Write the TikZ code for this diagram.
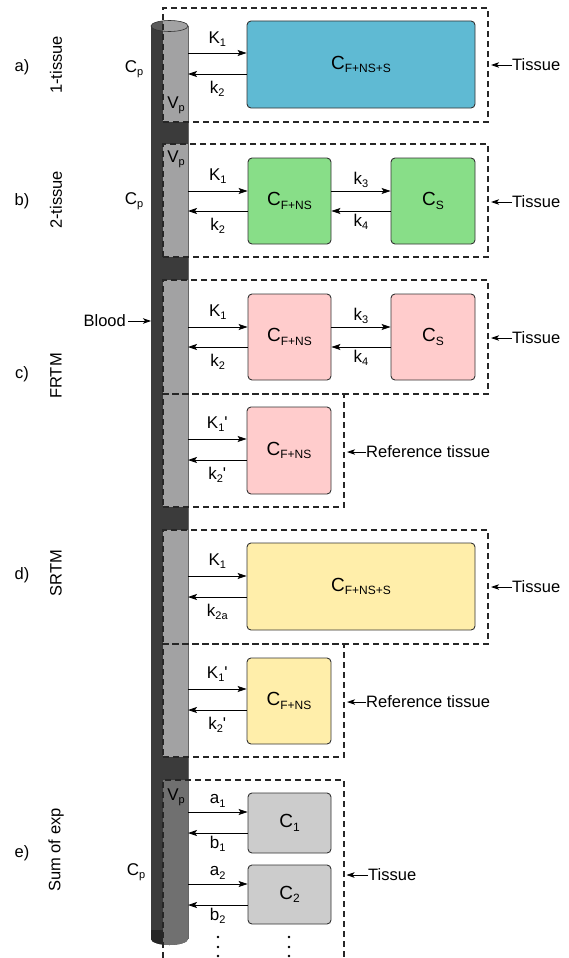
\documentclass[tikz,border=0pt]{standalone}
\usepackage{fontspec}
\setmainfont{Liberation Sans}
\usetikzlibrary{arrows.meta}

% lowered, smaller subscript text
\newcommand{\lowsub}[1]{\raisebox{-3.2pt}{\fontsize{11}{11}\selectfont #1}}
\newcommand{\boxsub}[1]{\raisebox{-3.6pt}{\fontsize{12}{12}\selectfont #1}}

\definecolor{cyldark}{HTML}{3B3B3B}
\definecolor{cyltop}{HTML}{5A5A5A}
\definecolor{plasma}{HTML}{A2A2A3}
\definecolor{plasmadark}{HTML}{707070}
\definecolor{onebox}{HTML}{5FBAD3}
\definecolor{twobox}{HTML}{88DE88}
\definecolor{frtmbox}{HTML}{FFCCCC}
\definecolor{srtmbox}{HTML}{FFEEAA}
\definecolor{expbox}{HTML}{CCCCCC}

\begin{document}
\begin{tikzpicture}[x=1pt,y=-1pt,
  lbl/.style={font=\fontsize{16.5}{18}\selectfont, inner sep=0pt},
  klab/.style={font=\fontsize{17}{18}\selectfont, inner sep=0pt},
  comp/.style={draw=black!80, line width=0.9pt, rounded corners=4pt,
               font=\fontsize{19}{20}\selectfont, inner sep=0pt},
  region/.style={draw=black!85, line width=1.1pt, dash pattern=on 6pt off 4pt,
                 inner sep=0pt},
  flow/.style={line width=0.8pt, -{Stealth[length=9pt,width=6pt,inset=2pt]}},
  side/.style={line width=0.8pt, -{Stealth[length=8pt,width=5.5pt,inset=2pt]}},
]
\useasboundingbox (0,0) rectangle (568,958);

% ---------------- blood vessel ----------------
\fill[cyldark] (151,26) -- (151,939)
  arc[start angle=180,end angle=360,x radius=18.5pt,y radius=6pt]
  -- (188,26) -- cycle;
\fill[cyltop] (169.5,26) ellipse[x radius=18.5pt,y radius=5.5pt];
\begin{scope}
  \clip (151,26) -- (151,939)
    arc[start angle=180,end angle=360,x radius=18.5pt,y radius=6pt]
    -- (188,26)
    arc[start angle=0,end angle=180,x radius=18.5pt,y radius=5.5pt] -- cycle;
  % plasma compartments
  \fill[plasma] (163,15) rectangle (188,122);
  \fill[plasma] (163,144) rectangle (188,257);
  \fill[plasma] (163,280) rectangle (188,507);
  \fill[plasma] (163,530) rectangle (188,757);
  \fill[plasmadark] (163,780) rectangle (188,950);
  \fill[black!85] (151,930) rectangle (163,950);
\end{scope}
\draw[black!80, line width=0.6pt] (169.5,26) ellipse[x radius=18.5pt,y radius=5.5pt];
\draw[black!60, line width=0.4pt] (188,26) -- (188,939);

% ---------------- dashed tissue regions ----------------
\node[region, minimum width=325pt, minimum height=114pt] (ra) at (325.5,65) {};
\node[region, minimum width=325pt, minimum height=113pt] (rb) at (325.5,200.5) {};
\node[region, minimum width=325pt, minimum height=114pt] (rc) at (325.5,337) {};
\node[region, minimum width=181pt, minimum height=113pt] (rcr) at (253.5,450.5) {};
\node[region, minimum width=325pt, minimum height=114pt] (rd) at (325.5,587) {};
\node[region, minimum width=181pt, minimum height=113pt] (rdr) at (253.5,700.5) {};
\coordinate (reBL) at (163,958);
\coordinate (reTL) at (163,780);
\coordinate (reTR) at (344,780);
\coordinate (reBR) at (344,958);
\draw[region] (reBL) -- (reTL) -- (reTR) -- (reBR);

% ---------------- compartments ----------------
\node[comp, fill=onebox, minimum width=228pt, minimum height=87pt] (ca) at (361,64.5) {C\boxsub{F+NS+S}};

\node[comp, fill=twobox, minimum width=83pt, minimum height=86pt] (cb1) at (289.5,201) {C\boxsub{F+NS}};
\node[comp, fill=twobox, minimum width=84pt, minimum height=86pt] (cb2) at (433,201) {C\boxsub{S}};

\node[comp, fill=frtmbox, minimum width=83pt, minimum height=86pt] (cc1) at (289.5,337) {C\boxsub{F+NS}};
\node[comp, fill=frtmbox, minimum width=84pt, minimum height=86pt] (cc2) at (433,337) {C\boxsub{S}};
\node[comp, fill=frtmbox, minimum width=84pt, minimum height=87pt] (ccr) at (289,450.5) {C\boxsub{F+NS}};

\node[comp, fill=srtmbox, minimum width=228pt, minimum height=87pt] (cd) at (361,586.5) {C\boxsub{F+NS+S}};
\node[comp, fill=srtmbox, minimum width=84pt, minimum height=86pt] (cdr) at (289,701) {C\boxsub{F+NS}};

\node[comp, fill=expbox, minimum width=83pt, minimum height=60pt] (ce1) at (289.5,823) {C\boxsub{1}};
\node[comp, fill=expbox, minimum width=83pt, minimum height=59pt] (ce2) at (289.5,894.5) {C\boxsub{2}};

% ---------------- exchange arrows ----------------
% a) 1-tissue
\coordinate (pa1) at (188,53);
\coordinate (pa2) at (188,74);
\draw[flow] (pa1) -- (pa1 -| ca.west) node[klab, midway, yshift=14pt] {K\lowsub{1}};
\draw[flow] (pa2 -| ca.west) -- (pa2) node[klab, midway, yshift=-15pt] {k\lowsub{2}};

% b) 2-tissue
\coordinate (pb1) at (188,191);
\coordinate (pb2) at (188,211);
\draw[flow] (pb1) -- (pb1 -| cb1.west) node[klab, midway, yshift=15pt] {K\lowsub{1}};
\draw[flow] (pb2 -| cb1.west) -- (pb2) node[klab, midway, yshift=-15pt] {k\lowsub{2}};
\draw[flow] (cb1.east |- pb1) -- (cb2.west |- pb1) node[klab, midway, yshift=11pt] {k\lowsub{3}};
\draw[flow] (cb2.west |- pb2) -- (cb1.east |- pb2) node[klab, midway, yshift=-11pt] {k\lowsub{4}};

% c) FRTM
\coordinate (pc1) at (188,327);
\coordinate (pc2) at (188,347);
\draw[flow] (pc1) -- (pc1 -| cc1.west) node[klab, midway, yshift=15pt] {K\lowsub{1}};
\draw[flow] (pc2 -| cc1.west) -- (pc2) node[klab, midway, yshift=-15pt] {k\lowsub{2}};
\draw[flow] (cc1.east |- pc1) -- (cc2.west |- pc1) node[klab, midway, yshift=11pt] {k\lowsub{3}};
\draw[flow] (cc2.west |- pc2) -- (cc1.east |- pc2) node[klab, midway, yshift=-11pt] {k\lowsub{4}};
\coordinate (pcr1) at (188,439);
\coordinate (pcr2) at (188,460);
\draw[flow] (pcr1) -- (pcr1 -| ccr.west) node[klab, midway, yshift=15pt] {K\lowsub{1}\textquotesingle};
\draw[flow] (pcr2 -| ccr.west) -- (pcr2) node[klab, midway, yshift=-15pt] {k\lowsub{2}\textquotesingle};

% d) SRTM
\coordinate (pd1) at (188,576);
\coordinate (pd2) at (188,597);
\draw[flow] (pd1) -- (pd1 -| cd.west) node[klab, midway, yshift=15pt] {K\lowsub{1}};
\draw[flow] (pd2 -| cd.west) -- (pd2) node[klab, midway, yshift=-15pt] {k\lowsub{2a}};
\coordinate (pdr1) at (188,689);
\coordinate (pdr2) at (188,710);
\draw[flow] (pdr1) -- (pdr1 -| cdr.west) node[klab, midway, yshift=15pt] {K\lowsub{1}\textquotesingle};
\draw[flow] (pdr2 -| cdr.west) -- (pdr2) node[klab, midway, yshift=-15pt] {k\lowsub{2}\textquotesingle};

% e) sum of exponentials
\coordinate (pe1) at (188,812);
\coordinate (pe2) at (188,833);
\coordinate (pe3) at (188,884);
\coordinate (pe4) at (188,905);
\draw[flow] (pe1) -- (pe1 -| ce1.west) node[klab, midway, yshift=11pt] {a\lowsub{1}};
\draw[flow] (pe2 -| ce1.west) -- (pe2) node[klab, midway, yshift=-11pt] {b\lowsub{1}};
\draw[flow] (pe3) -- (pe3 -| ce2.west) node[klab, midway, yshift=11pt] {a\lowsub{2}};
\draw[flow] (pe4 -| ce2.west) -- (pe4) node[klab, midway, yshift=-11pt] {b\lowsub{2}};

% continuation dots
\foreach \yy in {937,947,956} {
  \fill (218,\yy) circle (1.3pt);
  \fill (289,\yy) circle (1.3pt);
}

% ---------------- blood labels ----------------
\node[klab] (cpa) at (134,69) {C\lowsub{p}};
\node[klab] (cpb) at (134,201) {C\lowsub{p}};
\node[klab] (cpe) at (136,872) {C\lowsub{p}};
\node[klab] (vpa) at (176,105) {V\lowsub{p}};
\node[klab] (vpb) at (176,159) {V\lowsub{p}};
\node[klab] (vpe) at (176,797) {V\lowsub{p}};

\node[lbl, anchor=east] (blood) at (126,321) {Blood};
\coordinate (vesselL) at (151,321);
\draw[side, shorten <=2pt] (blood) -- (vesselL);

% ---------------- tissue labels ----------------
\node[lbl, anchor=west] (ta) at (512,65) {Tissue};
\node[lbl, anchor=west] (tb) at (512,202) {Tissue};
\node[lbl, anchor=west] (tc) at (512,338) {Tissue};
\node[lbl, anchor=west] (tcr) at (366,452) {Reference tissue};
\node[lbl, anchor=west] (td) at (512,587) {Tissue};
\node[lbl, anchor=west] (tdr) at (366,702) {Reference tissue};
\node[lbl, anchor=west] (te) at (368,875) {Tissue};
\draw[side, shorten >=2.5pt] (ta) -- (ta -| ra.east);
\draw[side, shorten >=2.5pt] (tb) -- (tb -| rb.east);
\draw[side, shorten >=2.5pt] (tc) -- (tc -| rc.east);
\draw[side, shorten >=2.5pt] (tcr) -- (tcr -| rcr.east);
\draw[side, shorten >=2.5pt] (td) -- (td -| rd.east);
\draw[side, shorten >=2.5pt] (tdr) -- (tdr -| rdr.east);
\draw[side, shorten >=2.5pt] (te) -- (te -| reTR);

% ---------------- model labels ----------------
\node[lbl] (la) at (22,67) {a)};
\node[lbl] (lb) at (22,201) {b)};
\node[lbl] (lc) at (22,374) {c)};
\node[lbl] (ld) at (22,575) {d)};
\node[lbl] (le) at (22,853) {e)};
\node[lbl, rotate=90] (na) at (56,65) {1-tissue};
\node[lbl, rotate=90] (nb) at (56,200) {2-tissue};
\node[lbl, rotate=90] (nc) at (56,376) {FRTM};
\node[lbl, rotate=90] (nd) at (56,573) {SRTM};
\node[lbl, rotate=90] (ne) at (56,850) {Sum of exp};
\end{tikzpicture}
\end{document}
